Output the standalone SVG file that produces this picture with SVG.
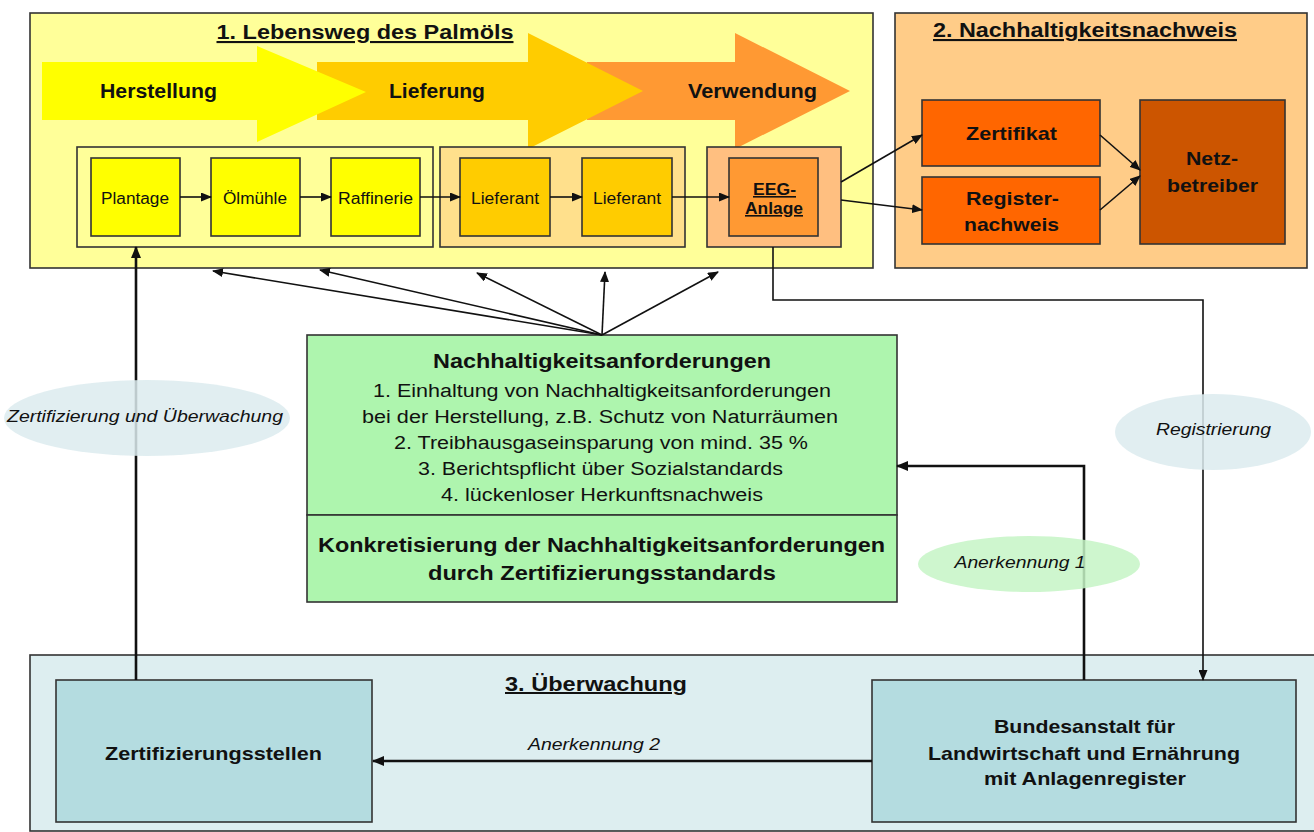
<svg xmlns="http://www.w3.org/2000/svg" width="1314" height="832" viewBox="0 0 1314 832">
<style>
text{font-family:"Liberation Sans",Arial,sans-serif;fill:#111;}
.b{font-weight:bold;}
.i{font-style:italic;}
.u{text-decoration:underline;}
.box{stroke:#333;stroke-width:1.6;}
.ln{fill:none;stroke:#111;stroke-width:1.6;}
.lt{fill:none;stroke:#111;stroke-width:2.6;}
.ell{opacity:0.85;}
</style>
<defs>
<marker id="ah" markerUnits="userSpaceOnUse" markerWidth="12" markerHeight="10" refX="11" refY="5" orient="auto">
<path d="M0,0 L12,5 L0,10 z" fill="#111"/>
</marker>
<marker id="ahs" markerUnits="userSpaceOnUse" markerWidth="11" markerHeight="9" refX="10" refY="4.5" orient="auto">
<path d="M0,0 L11,4.5 L0,9 z" fill="#111"/>
</marker>
</defs>
<rect width="1314" height="832" fill="#ffffff"/>

<g id="section1">
<rect class="box" x="30" y="13" width="843" height="255" fill="#FFFF99"/>
<path d="M587,62 L735,62 L735,33 L850,91 L735,149 L735,120 L587,120 z" fill="#FF9933"/>
<path d="M317,62 L528,62 L528,33 L643,91 L528,149 L528,120 L317,120 z" fill="#FFCC00"/>
<path d="M42,62 L257,62 L257,46 L366,92 L257,142 L257,120 L42,120 z" fill="#FFFF00"/>
<text class="b u" x="365" y="39" font-size="21" text-anchor="middle" textLength="297" lengthAdjust="spacingAndGlyphs">1. Lebensweg des Palmöls</text>
<text class="b" x="158.5" y="98" font-size="20" text-anchor="middle" textLength="117" lengthAdjust="spacingAndGlyphs">Herstellung</text>
<text class="b" x="437" y="98" font-size="20" text-anchor="middle" textLength="96" lengthAdjust="spacingAndGlyphs">Lieferung</text>
<text class="b" x="752.5" y="98" font-size="20" text-anchor="middle" textLength="129" lengthAdjust="spacingAndGlyphs">Verwendung</text>
</g>

<g id="group-herstellung">
<rect class="box" x="77" y="147" width="356" height="100" fill="#FFFF99"/>
</g>
<g id="group-lieferung">
<rect class="box" x="440" y="147" width="245" height="100" fill="#FFE08C"/>
</g>
<g id="group-verwendung">
<rect class="box" x="707" y="147" width="134" height="100" fill="#FFBF80"/>
</g>

<g id="plantage">
<rect class="box" x="91" y="158" width="89" height="78" fill="#FFFF00"/>
<text x="135" y="204" font-size="16" text-anchor="middle" textLength="68" lengthAdjust="spacingAndGlyphs">Plantage</text>
</g>
<g id="oelmuehle">
<rect class="box" x="211" y="158" width="89" height="78" fill="#FFFF00"/>
<text x="255" y="204" font-size="16" text-anchor="middle" textLength="64" lengthAdjust="spacingAndGlyphs">Ölmühle</text>
</g>
<g id="raffinerie">
<rect class="box" x="331" y="158" width="89" height="78" fill="#FFFF00"/>
<text x="375.5" y="204" font-size="16" text-anchor="middle" textLength="75" lengthAdjust="spacingAndGlyphs">Raffinerie</text>
</g>
<g id="lieferant1">
<rect class="box" x="460" y="158" width="90" height="78" fill="#FFCC00"/>
<text x="505" y="204" font-size="16" text-anchor="middle" textLength="68" lengthAdjust="spacingAndGlyphs">Lieferant</text>
</g>
<g id="lieferant2">
<rect class="box" x="582" y="158" width="90" height="78" fill="#FFCC00"/>
<text x="627" y="204" font-size="16" text-anchor="middle" textLength="68" lengthAdjust="spacingAndGlyphs">Lieferant</text>
</g>
<g id="eeg-anlage">
<rect class="box" x="729" y="158" width="89" height="78" fill="#FF9933"/>
<text class="b u" x="774.5" y="195" font-size="16" text-anchor="middle" textLength="43" lengthAdjust="spacingAndGlyphs">EEG-</text>
<text class="b u" x="774" y="214" font-size="16" text-anchor="middle" textLength="58" lengthAdjust="spacingAndGlyphs">Anlage</text>
</g>

<g id="section2">
<rect class="box" x="895" y="13" width="412" height="255" fill="#FFCC88"/>
<text class="b u" x="1085" y="37" font-size="21" text-anchor="middle" textLength="304" lengthAdjust="spacingAndGlyphs">2. Nachhaltigkeitsnachweis</text>
</g>
<g id="zertifikat">
<rect class="box" x="922" y="100" width="178" height="66" fill="#FF6600"/>
<text class="b" x="1011.5" y="140" font-size="19" text-anchor="middle" textLength="91" lengthAdjust="spacingAndGlyphs">Zertifikat</text>
</g>
<g id="registernachweis">
<rect class="box" x="922" y="177" width="178" height="67" fill="#FF6600"/>
<text class="b" x="1012.5" y="205" font-size="19" text-anchor="middle" textLength="93" lengthAdjust="spacingAndGlyphs">Register-</text>
<text class="b" x="1011.5" y="231" font-size="19" text-anchor="middle" textLength="95" lengthAdjust="spacingAndGlyphs">nachweis</text>
</g>
<g id="netzbetreiber">
<rect class="box" x="1140" y="100" width="145" height="144" fill="#CC5500"/>
<text class="b" x="1212" y="165" font-size="19" text-anchor="middle" textLength="52" lengthAdjust="spacingAndGlyphs">Netz-</text>
<text class="b" x="1212.5" y="192" font-size="19" text-anchor="middle" textLength="91" lengthAdjust="spacingAndGlyphs">betreiber</text>
</g>

<g id="anforderungen">
<rect class="box" x="307" y="335" width="590" height="180" fill="#AEF5AE"/>
<rect class="box" x="307" y="515" width="590" height="87" fill="#AEF5AE"/>
<text class="b" x="602" y="368" font-size="20" text-anchor="middle" textLength="338" lengthAdjust="spacingAndGlyphs">Nachhaltigkeitsanforderungen</text>
<text x="602" y="397" font-size="18" text-anchor="middle" textLength="458" lengthAdjust="spacingAndGlyphs">1. Einhaltung von Nachhaltigkeitsanforderungen</text>
<text x="600" y="423" font-size="18" text-anchor="middle" textLength="476" lengthAdjust="spacingAndGlyphs">bei der Herstellung, z.B. Schutz von Naturräumen</text>
<text x="601" y="449" font-size="18" text-anchor="middle" textLength="414" lengthAdjust="spacingAndGlyphs">2. Treibhausgaseinsparung von mind. 35 %</text>
<text x="600.5" y="475" font-size="18" text-anchor="middle" textLength="365" lengthAdjust="spacingAndGlyphs">3. Berichtspflicht über Sozialstandards</text>
<text x="602" y="501" font-size="18" text-anchor="middle" textLength="322" lengthAdjust="spacingAndGlyphs">4. lückenloser Herkunftsnachweis</text>
<text class="b" x="601.5" y="552" font-size="20" text-anchor="middle" textLength="567" lengthAdjust="spacingAndGlyphs">Konkretisierung der Nachhaltigkeitsanforderungen</text>
<text class="b" x="602" y="580" font-size="20" text-anchor="middle" textLength="348" lengthAdjust="spacingAndGlyphs">durch Zertifizierungsstandards</text>
</g>

<g id="section3">
<rect class="box" x="30" y="655" width="1290" height="176" fill="#DDEEF0"/>
<text class="b u" x="596" y="691" font-size="20" text-anchor="middle" textLength="182" lengthAdjust="spacingAndGlyphs">3. Überwachung</text>
</g>
<g id="zertifizierungsstellen">
<rect class="box" x="56" y="680" width="316" height="142" fill="#B4DCE0"/>
<text class="b" x="213.5" y="760" font-size="19" text-anchor="middle" textLength="217" lengthAdjust="spacingAndGlyphs">Zertifizierungsstellen</text>
</g>
<g id="bundesanstalt">
<rect class="box" x="872" y="680" width="424" height="142" fill="#B4DCE0"/>
<text class="b" x="1084.5" y="733" font-size="19" text-anchor="middle" textLength="181" lengthAdjust="spacingAndGlyphs">Bundesanstalt für</text>
<text class="b" x="1084" y="760" font-size="19" text-anchor="middle" textLength="312" lengthAdjust="spacingAndGlyphs">Landwirtschaft und Ernährung</text>
<text class="b" x="1085" y="785" font-size="19" text-anchor="middle" textLength="202" lengthAdjust="spacingAndGlyphs">mit Anlagenregister</text>
</g>

<g id="connectors">
<line class="ln" x1="180" y1="197" x2="211" y2="197" marker-end="url(#ahs)"/>
<line class="ln" x1="300" y1="197" x2="331" y2="197" marker-end="url(#ahs)"/>
<line class="ln" x1="420" y1="197" x2="460" y2="197" marker-end="url(#ahs)"/>
<line class="ln" x1="550" y1="197" x2="582" y2="197" marker-end="url(#ahs)"/>
<line class="ln" x1="672" y1="197" x2="729" y2="197" marker-end="url(#ahs)"/>
<line class="ln" x1="841" y1="182" x2="922" y2="135" marker-end="url(#ahs)"/>
<line class="ln" x1="841" y1="200" x2="922" y2="210" marker-end="url(#ahs)"/>
<line class="ln" x1="1100" y1="135" x2="1140" y2="170" marker-end="url(#ahs)"/>
<line class="ln" x1="1100" y1="210" x2="1140" y2="176" marker-end="url(#ahs)"/>
<line class="ln" x1="602" y1="335" x2="213" y2="271" marker-end="url(#ahs)"/>
<line class="ln" x1="602" y1="335" x2="320" y2="270" marker-end="url(#ahs)"/>
<line class="ln" x1="602" y1="335" x2="477" y2="273" marker-end="url(#ahs)"/>
<line class="ln" x1="602" y1="335" x2="605" y2="272" marker-end="url(#ahs)"/>
<line class="ln" x1="602" y1="335" x2="718" y2="272" marker-end="url(#ahs)"/>
<polyline class="ln" points="773,247 773,300 1203,300 1203,680" marker-end="url(#ahs)"/>
<line class="lt" x1="136" y1="680" x2="136" y2="247" marker-end="url(#ah)"/>
<polyline class="lt" points="1084,680 1084,466 897,466" marker-end="url(#ah)"/>
<line class="lt" x1="872" y1="761" x2="373" y2="761" marker-end="url(#ah)"/>
</g>

<g id="label-zertifizierung">
<ellipse class="ell" cx="147" cy="418" rx="143" ry="38" fill="#DCEBEF"/>
<text class="i" x="145" y="422" font-size="17" text-anchor="middle" textLength="276" lengthAdjust="spacingAndGlyphs">Zertifizierung und Überwachung</text>
</g>
<g id="label-registrierung">
<ellipse class="ell" cx="1213" cy="432" rx="98" ry="38" fill="#DCEBEF"/>
<text class="i" x="1213.5" y="435" font-size="17" text-anchor="middle" textLength="115" lengthAdjust="spacingAndGlyphs">Registrierung</text>
</g>
<g id="label-anerkennung1">
<ellipse class="ell" cx="1029" cy="564" rx="111" ry="28" fill="#C6F5C6"/>
<text class="i" x="1020" y="568" font-size="17" text-anchor="middle" textLength="131" lengthAdjust="spacingAndGlyphs">Anerkennung 1</text>
</g>
<g id="label-anerkennung2">
<text class="i" x="594" y="750" font-size="17" text-anchor="middle" textLength="132" lengthAdjust="spacingAndGlyphs">Anerkennung 2</text>
</g>
</svg>
